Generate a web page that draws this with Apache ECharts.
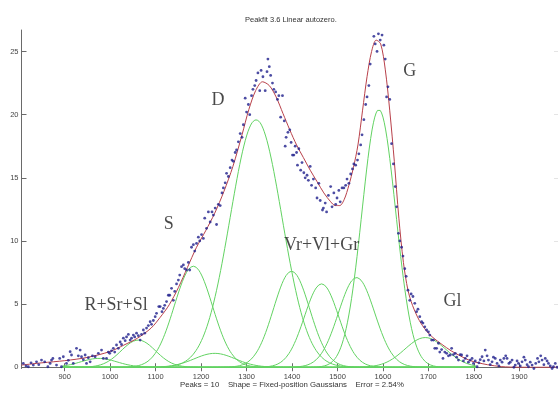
<!DOCTYPE html>
<html><head><meta charset="utf-8">
<script src="https://cdn.jsdelivr.net/npm/echarts@6/dist/echarts.min.js"></script>
<style>html,body{margin:0;padding:0;background:#fff}#c{width:558px;height:397px}</style>
</head><body><div id="c"></div>
<script>
const xTicks = [900,1000,1100,1200,1300,1400,1500,1600,1700,1800,1900];
const yTicks = [0,5,10,15,20,25];

// Fixed-position Gaussian components: centre, height, FWHM
const peakCenters = [975,1062,1183,1230,1321,1399,1465,1542,1591,1693];
const peakHeights = [0.7,2.15,8.0,1.1,19.6,7.6,6.6,7.1,20.4,2.35];
const peakFWHM    = [94,89,99,106,134,94,89,94,87,106];
const compRange = [895,1805];

// Fitted model (red line)
const fitX = [805,850,900,950,1000,1030,1060,1090,1110,1130,1150,1170,1190,1210,1230,1250,1270,1290,1305,1320,1335,1350,1365,1380,1395,1410,1425,1440,1455,1470,1485,1495,1505,1515,1525,1535,1545,1555,1565,1575,1585,1595,1605,1615,1625,1635,1645,1655,1665,1680,1695,1710,1730,1750,1770,1790,1810,1830,1860,1900,1985];
const fitY = [0.17,0.35,0.52,0.78,1.25,1.75,2.3,3.1,3.95,4.95,6.3,7.9,9.5,10.8,12.2,13.9,15.9,18.4,20.4,21.9,22.6,22.3,21.4,20.1,18.8,17.6,16.6,15.6,14.7,13.8,13.1,12.8,12.8,13.3,14.4,15.8,17.6,20.3,23.0,25.0,25.9,25.6,23.6,20.3,16.3,11.8,8.3,6.1,4.9,3.7,2.9,2.35,1.8,1.3,0.9,0.55,0.35,0.2,0.05,0,0];

// Measured data points (blue dots)
const dataX = [809,815,820,826,831,838,843,849,856,863,868,871,874,882,889,893,897,904,908,912,915,919,926,930,934,937,941,945,948,952,956,961,967,974,981,985,992,996,999,1003,1007,1010,1014,1018,1022,1025,1029,1033,1036,1040,1044,1047,1051,1054,1058,1062,1066,1069,1073,1076,1080,1084,1088,1091,1095,1099,1102,1107,1110,1114,1117,1120,1124,1128,1131,1135,1139,1142,1146,1150,1153,1157,1161,1164,1168,1172,1175,1179,1183,1186,1190,1194,1197,1201,1205,1208,1212,1216,1220,1224,1227,1231,1234,1238,1242,1246,1249,1253,1256,1260,1264,1268,1271,1275,1278,1282,1286,1290,1293,1297,1300,1304,1307,1311,1314,1318,1321,1325,1329,1332,1336,1341,1345,1347,1350,1353,1357,1360,1364,1368,1371,1375,1379,1383,1385,1387,1391,1395,1398,1401,1404,1407,1410,1412,1415,1419,1422,1426,1429,1433,1436,1440,1443,1447,1452,1455,1459,1462,1467,1469,1473,1476,1480,1485,1488,1492,1496,1499,1503,1506,1510,1514,1518,1521,1525,1529,1533,1536,1540,1544,1547,1551,1554,1558,1562,1565,1569,1572,1576,1580,1583,1587,1590,1594,1598,1602,1605,1608,1611,1615,1619,1623,1627,1630,1634,1637,1641,1644,1648,1651,1655,1659,1662,1666,1670,1674,1677,1681,1685,1688,1692,1696,1700,1703,1707,1711,1714,1718,1722,1725,1729,1732,1736,1740,1744,1748,1751,1755,1759,1762,1766,1770,1773,1777,1781,1785,1788,1792,1796,1799,1803,1807,1811,1814,1818,1822,1825,1829,1832,1836,1840,1843,1847,1851,1855,1858,1862,1866,1870,1873,1877,1880,1884,1888,1891,1895,1898,1902,1906,1910,1913,1917,1920,1924,1928,1932,1936,1940,1943,1947,1950,1954,1957,1961,1964,1968,1972,1975,1979,1983];
const dataY = [0.3,0.1,0.04,0.35,0.17,0.43,0.2,0.57,0.43,0.04,0.3,0.57,0.7,0.17,0.7,0.04,0.83,0.3,0.55,1.23,0.97,0.3,1.5,0.9,1.36,0.83,0.6,0.97,0.3,0.75,0.43,0.9,0.83,1.1,1.36,0.7,0.7,1.2,1.1,1.3,1.5,1.2,1.76,1.5,2.0,1.8,2.3,2.1,2.4,2.6,2.15,2.3,2.55,2.4,2.7,2.5,2.15,2.6,2.95,2.7,3.1,3.3,3.6,3.4,3.7,4.0,4.27,4.8,4.8,4.4,4.66,4.9,5.2,5.7,5.7,6.25,5.3,6.0,6.6,6.9,7.3,7.96,8.1,7.8,7.7,8.3,7.7,9.5,9.7,9.2,9.8,10.3,10.0,10.5,10.2,11.8,11.0,12.3,11.5,12.3,12.05,12.6,11.3,12.9,12.8,13.8,14.2,14.6,15.35,15.1,15.8,16.4,16.3,17.0,17.2,17.85,18.5,18.2,19.2,21.3,20.2,20.8,20.0,21.5,22.0,22.3,22.7,23.3,21.9,23.5,23.0,21.9,23.4,24.4,23.8,23.1,22.5,22.0,21.8,21.2,21.5,19.8,21.5,19.5,17.5,18.2,18.6,18.8,17.8,16.8,16.8,17.5,17.0,16.0,17.3,15.6,16.2,15.4,15.0,15.2,14.8,15.9,14.4,14.9,14.2,13.4,14.56,13.2,12.45,12.6,13.0,12.3,13.6,14.3,12.7,13.8,12.9,13.4,14.0,13.1,14.2,14.2,14.4,14.9,14.56,15.3,15.7,16.1,16.0,16.4,16.9,17.6,18.4,19.6,20.8,21.4,22.3,24.0,26.8,26.2,25.6,25.0,26.4,25.9,26.3,25.5,24.4,21.4,22.2,21.2,17.7,16.1,14.3,12.7,10.6,10.0,9.5,8.8,7.8,7.2,6.1,5.3,5.8,5.6,5.06,4.4,4.6,4.0,3.6,3.5,3.2,2.95,2.8,2.55,2.15,2.15,1.5,1.5,1.9,1.2,1.4,0.7,1.2,1.1,0.9,0.97,1.5,1.0,1.1,0.8,0.57,1.0,0.97,0.5,0.7,0.9,0.4,0.57,0.7,0.3,0.5,0.04,0.35,0.6,0.83,0.5,1.36,0.9,0.57,0.2,0.43,0.8,0.7,0.3,0.1,0.57,0.4,0.7,0.9,0.7,0.3,0.4,0.57,0.0,0.17,0.5,0.3,0.1,0.43,0.8,0.57,0.2,0.04,0.4,0.17,-0.1,0.3,0.7,0.43,0.9,0.57,0.2,0.7,0.5,0.3,0.1,-0.1,0.04,0.3,0.0];

// Peak labels (text, anchored in data units)
const annText = ['R+Sr+Sl','S','D','G','Vr+Vl+Gr','Gl'];
const annX = [1013,1129,1237,1659,1465,1753];
const annY = [4.92,11.33,21.16,23.4,9.68,5.19];

const titleText = 'Peakfit 3.6 Linear autozero.';
const footText = 'Peaks = 10    Shape = Fixed-position Gaussians    Error = 2.54%';

const chart = echarts.init(document.getElementById('c'), null, {renderer:'canvas'});

const compSeries = peakCenters.map((c, i) => {
  const s = peakFWHM[i] / 2.3548;
  const pts = [];
  for (let x = compRange[0]; x <= compRange[1]; x += 3) {
    pts.push([x, peakHeights[i] * Math.exp(-((x - c) * (x - c)) / (2 * s * s))]);
  }
  return {type:'line', data:pts, symbol:'none', smooth:false,
    lineStyle:{color:'#62d262', width:1}, z:2, silent:true, animation:false};
});

const axisCol = '#6a6a6a';
const labelFont = {fontFamily:'Liberation Sans', fontSize:7.5, color:'#444'};
const plain = v => String(v);
const xMin = 805, xMax = 1985, yMin = -0.1, yMax = 26.7;

chart.setOption({
  animation:false,
  grid:{left:21.5, right:0, top:30, bottom:28.5},
  xAxis:[
    {type:'value', min:xMin, max:xMax, position:'bottom',
     axisLine:{lineStyle:{color:axisCol}}, splitLine:{show:false},
     axisTick:{inside:true, length:4, lineStyle:{color:axisCol}, customValues:xTicks},
     axisLabel:Object.assign({margin:4, customValues:xTicks, formatter:plain}, labelFont)},
    {type:'value', min:xMin, max:xMax, position:'top',
     axisLine:{lineStyle:{color:axisCol}}, splitLine:{show:false},
     axisTick:{inside:true, length:4, lineStyle:{color:axisCol}, customValues:xTicks},
     axisLabel:{show:false}}
  ],
  yAxis:[
    {type:'value', min:yMin, max:yMax, position:'left',
     axisLine:{show:true, lineStyle:{color:axisCol}}, splitLine:{show:false},
     axisTick:{show:true, inside:true, length:5, lineStyle:{color:axisCol}, customValues:yTicks},
     axisLabel:Object.assign({margin:3, customValues:yTicks, formatter:plain}, labelFont)},
    {type:'value', min:yMin, max:yMax, position:'right',
     axisLine:{show:true, lineStyle:{color:axisCol}}, splitLine:{show:false},
     axisTick:{show:true, inside:true, length:4, lineStyle:{color:'#e4e4e4'}, customValues:yTicks},
     axisLabel:{show:false}}
  ],
  graphic:[
    {type:'text', left:245, top:16, style:{text:titleText, font:'7.5px "Liberation Sans"', fill:'#333'}},
    {type:'text', left:180, top:381, style:{text:footText, font:'7.8px "Liberation Sans"', fill:'#333'}}
  ],
  series:[
    ...compSeries,
    {type:'line', data:fitX.map((x,i)=>[x,fitY[i]]), symbol:'none', smooth:0.3,
     lineStyle:{color:'#b8404a', width:1}, z:3, silent:true},
    {type:'scatter', data:dataX.map((x,i)=>[x,dataY[i]]), symbol:'circle', symbolSize:2.8,
     itemStyle:{color:'#1f1f8c'}, z:4, silent:true},
    {type:'scatter', data:annX.map((x,i)=>[x,annY[i],annText[i]]), symbolSize:0, z:5, silent:true,
     label:{show:true, position:'inside', formatter:p=>p.data[2],
       fontFamily:'Liberation Serif', fontSize:18, color:'#1a1a1a'}}
  ]
});
</script></body></html>
